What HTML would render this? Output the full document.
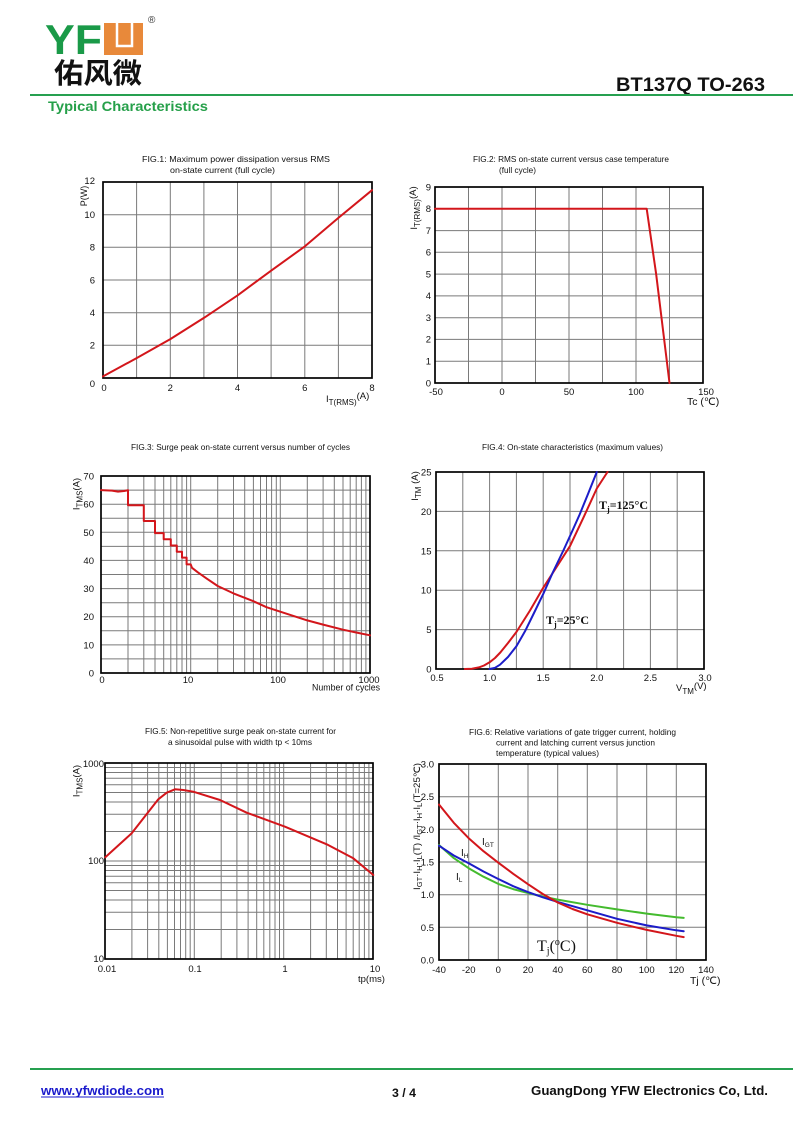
<!DOCTYPE html>
<html><head><meta charset="utf-8"><style>
html,body{margin:0;padding:0;background:#fff;}
svg{display:block;}
text{font-family:"Liberation Sans",Arial,sans-serif;fill:#111;}
.s{font-family:"Liberation Serif","Times New Roman",serif;}
.g{stroke:#7a7a7a;stroke-width:1;fill:none;}
.f{stroke:#000;stroke-width:1.7;fill:none;}
.r{stroke:#d3161b;stroke-width:2;fill:none;stroke-linejoin:round;stroke-linecap:round;}
.b{stroke:#1c1cc8;stroke-width:2;fill:none;stroke-linejoin:round;stroke-linecap:round;}
.gr{stroke:#44bb2e;stroke-width:2;fill:none;stroke-linejoin:round;stroke-linecap:round;}
.t{font-size:8.5px;}
.k{font-size:9.5px;}
</style></head><body>
<svg width="800" height="1130" viewBox="0 0 800 1130" xmlns="http://www.w3.org/2000/svg">
<rect width="800" height="1130" fill="#fff"/>

<!-- HEADER -->
<text x="45" y="54" font-size="42" font-weight="bold" textLength="57" lengthAdjust="spacingAndGlyphs" style="fill:#1a9a48">YF</text>
<rect x="104" y="23" width="39" height="32" fill="#e8893a"/>
<path d="M117,23 V46 H132 V23" stroke="#fff" stroke-width="2.5" fill="none"/>
<text x="148" y="23" font-size="10" style="fill:#333">®</text>
<text x="54" y="83" font-size="28" font-weight="bold" textLength="88" lengthAdjust="spacingAndGlyphs" style="font-family:'Liberation Sans','Noto Sans CJK SC',sans-serif;fill:#111">佑风微</text>
<text x="765" y="91" font-size="19.5" font-weight="bold" text-anchor="end" textLength="149" lengthAdjust="spacingAndGlyphs">BT137Q TO-263</text>
<line x1="30" y1="95" x2="793" y2="95" stroke="#26a050" stroke-width="2"/>
<text x="48" y="111" font-size="13.5" font-weight="bold" textLength="160" lengthAdjust="spacingAndGlyphs" style="fill:#26a04a">Typical Characteristics</text>

<!-- FIG 1 -->
<text class="t" x="142" y="162" textLength="188" lengthAdjust="spacingAndGlyphs">FIG.1: Maximum power dissipation versus RMS</text>
<text class="t" x="170" y="173" textLength="105" lengthAdjust="spacingAndGlyphs">on-state current (full cycle)</text>
<g class="g">
<path d="M136.6,182V378M170.3,182V378M203.9,182V378M237.5,182V378M271.1,182V378M304.8,182V378M338.4,182V378"/>
<path d="M103,214.7H372M103,247.3H372M103,280H372M103,312.7H372M103,345.3H372"/>
</g>
<rect class="f" x="103" y="182" width="269" height="196"/>
<polyline class="r" points="103,376.4 136.6,358.1 170.3,339.1 203.9,317.9 237.5,295.4 271.1,270.7 304.8,246.4 338.4,217.9 372,190.2"/>
<g class="k" text-anchor="end">
<text x="95" y="184">12</text><text x="95" y="218">10</text><text x="95" y="250.5">8</text><text x="95" y="283.5">6</text><text x="95" y="316">4</text><text x="95" y="348.5">2</text><text x="95" y="387">0</text>
</g>
<g class="k" text-anchor="middle">
<text x="104" y="391">0</text><text x="170.3" y="391">2</text><text x="237.5" y="391">4</text><text x="304.8" y="391">6</text><text x="372" y="391">8</text>
</g>
<text x="326" y="402" font-size="9.5">I<tspan font-size="8" dy="3">T(RMS)</tspan><tspan dy="-6">(A)</tspan></text>
<text transform="translate(87,196) rotate(-90)" text-anchor="middle" font-size="9">P(W)</text>

<!-- FIG 2 -->
<text class="t" x="473" y="162" textLength="196" lengthAdjust="spacingAndGlyphs">FIG.2: RMS on-state current versus case temperature</text>
<text class="t" x="499" y="173" textLength="37" lengthAdjust="spacingAndGlyphs">(full cycle)</text>
<g class="g">
<path d="M468.5,187V383M502,187V383M535.5,187V383M569,187V383M602.5,187V383M636,187V383M669.5,187V383"/>
<path d="M435,361.2H703M435,339.4H703M435,317.7H703M435,295.9H703M435,274.1H703M435,252.3H703M435,230.6H703M435,208.8H703"/>
</g>
<rect class="f" x="435" y="187" width="268" height="196"/>
<polyline class="r" points="435,208.8 646.7,208.8 656.1,273.7 669.5,383"/>
<g class="k" text-anchor="end">
<text x="431" y="386.3">0</text><text x="431" y="364.5">1</text><text x="431" y="342.7">2</text><text x="431" y="321">3</text><text x="431" y="299.2">4</text><text x="431" y="277.4">5</text><text x="431" y="255.6">6</text><text x="431" y="233.9">7</text><text x="431" y="212.1">8</text><text x="431" y="190.3">9</text>
</g>
<g class="k" text-anchor="middle">
<text x="436" y="395">-50</text><text x="502" y="395">0</text><text x="569" y="395">50</text><text x="636" y="395">100</text><text x="706" y="395">150</text>
</g>
<text x="687" y="405" font-size="10.5">Tc (℃)</text>
<text transform="translate(417,208) rotate(-90)" text-anchor="middle" font-size="9.5">I<tspan font-size="8" dy="3">T(RMS)</tspan><tspan dy="-4">(A)</tspan></text>

<!-- FIG 3 -->
<text class="t" x="131" y="450" textLength="219" lengthAdjust="spacingAndGlyphs">FIG.3: Surge peak on-state current versus number of cycles</text>
<g class="g">
<path d="M128,476V673M143.8,476V673M155,476V673M163.7,476V673M170.8,476V673M176.8,476V673M182,476V673M186.6,476V673M190.7,476V673M217.7,476V673M233.5,476V673M244.7,476V673M253.4,476V673M260.5,476V673M266.5,476V673M271.6,476V673M276.3,476V673M280.3,476V673M307.3,476V673M323.1,476V673M334.3,476V673M343,476V673M350.2,476V673M356.2,476V673M361.4,476V673M365.9,476V673"/>
<path d="M101,658.9H370M101,644.9H370M101,630.8H370M101,616.7H370M101,602.7H370M101,588.6H370M101,574.5H370M101,560.4H370M101,546.4H370M101,532.3H370M101,518.2H370M101,504.2H370M101,490.1H370"/>
</g>
<rect class="f" x="101" y="476" width="269" height="197"/>
<path class="r" d="M101,490.1 L112,490.6 L118,491.6 L124,491 L128,490.2 V505.3 H143.8 V521 H155 V533.1 H163.7 V539.3 H170.8 V545.5 H176.8 V551.7 H182 V557.6 H186.6 V564.4 H190.7 L192,567.8 L197.8,572.3 L206.5,578.4 L217.7,586 L233.5,593.4 L253.4,601.2 L266.5,607.2 L280.3,611.7 L307.3,620.4 L323.1,624.6 L343,629.7 L356.2,632.5 L370,635.3"/>
<g class="k" text-anchor="end">
<text x="94" y="676.5">0</text><text x="94" y="648.4">10</text><text x="94" y="620.2">20</text><text x="94" y="592.1">30</text><text x="94" y="563.9">40</text><text x="94" y="535.8">50</text><text x="94" y="507.7">60</text><text x="94" y="479.5">70</text>
</g>
<g class="k" text-anchor="middle">
<text x="102" y="683">0</text><text x="188" y="683">10</text><text x="278" y="683">100</text><text x="369" y="683">1000</text>
</g>
<text x="312" y="690.5" font-size="9.5" textLength="68" lengthAdjust="spacingAndGlyphs">Number of cycles</text>
<text transform="translate(79.5,494) rotate(-90)" text-anchor="middle" font-size="9.5">I<tspan font-size="8" dy="3">TMS</tspan><tspan dy="-3">(A)</tspan></text>

<!-- FIG 4 -->
<text class="t" x="482" y="450" textLength="181" lengthAdjust="spacingAndGlyphs">FIG.4: On-state characteristics (maximum values)</text>
<g class="g">
<path d="M462.8,472V669M489.6,472V669M516.4,472V669M543.2,472V669M570,472V669M596.8,472V669M623.6,472V669M650.4,472V669M677.2,472V669"/>
<path d="M436,629.6H704M436,590.2H704M436,550.8H704M436,511.4H704"/>
</g>
<rect class="f" x="436" y="472" width="268" height="197"/>
<polyline class="r" points="464.9,669 472,668.7 478.9,667.4 484,665.5 489.6,662.3 495,658 500.3,652.5 508,643 516.4,632 530,610.5 543.2,587.8 556.6,567 570,546.1 583.4,517.7 596.8,488.5 607.5,472"/>
<polyline class="b" points="489.6,669 495,667.8 500,664.7 508,657 516.4,646.3 525,631.3 534,613 543.2,594.1 553,572 563.6,550 571.6,532.5 579.6,514.6 588,494 596.8,472"/>
<text class="s" x="599" y="509" font-size="12" font-weight="bold">T<tspan font-size="8" dy="3">j</tspan><tspan dy="-3">=125°C</tspan></text>
<text class="s" x="546" y="624" font-size="12" font-weight="bold">T<tspan font-size="8" dy="3">j</tspan><tspan dy="-3">=25°C</tspan></text>
<g class="k" text-anchor="end">
<text x="431.5" y="672.5">0</text><text x="431.5" y="633.1">5</text><text x="431.5" y="593.7">10</text><text x="431.5" y="554.3">15</text><text x="431.5" y="514.9">20</text><text x="431.5" y="475.5">25</text>
</g>
<g class="k" text-anchor="middle">
<text x="437" y="681">0.5</text><text x="489.6" y="681">1.0</text><text x="543.2" y="681">1.5</text><text x="596.8" y="681">2.0</text><text x="650.4" y="681">2.5</text><text x="705" y="681">3.0</text>
</g>
<text x="676" y="691" font-size="9.5">V<tspan font-size="8" dy="3">TM</tspan><tspan dy="-5">(V)</tspan></text>
<text transform="translate(418,486) rotate(-90)" text-anchor="middle" font-size="9.5">I<tspan font-size="8" dy="3">TM</tspan><tspan dy="-3"> (A)</tspan></text>

<!-- FIG 5 -->
<text class="t" x="145" y="734" textLength="191" lengthAdjust="spacingAndGlyphs">FIG.5: Non-repetitive surge peak on-state current for</text>
<text class="t" x="168" y="745" textLength="144" lengthAdjust="spacingAndGlyphs">a sinusoidal pulse with width tp &lt; 10ms</text>
<g class="g">
<path d="M131.9,763V959M147.6,763V959M158.8,763V959M167.4,763V959M174.5,763V959M180.5,763V959M185.7,763V959M190.2,763V959M194.3,763V959M221.2,763V959M236.9,763V959M248.1,763V959M256.7,763V959M263.8,763V959M269.8,763V959M275,763V959M279.5,763V959M283.7,763V959M310.6,763V959M326.3,763V959M337.5,763V959M346.1,763V959M353.2,763V959M359.2,763V959M364.4,763V959M368.9,763V959"/>
<path d="M105,929.5H373M105,912.2H373M105,900H373M105,890.5H373M105,882.7H373M105,876.2H373M105,870.5H373M105,865.5H373M105,861H373M105,831.5H373M105,814.2H373M105,802H373M105,792.5H373M105,784.7H373M105,778.2H373M105,772.5H373M105,767.5H373"/>
</g>
<rect class="f" x="105" y="763" width="268" height="196"/>
<polyline class="r" points="105.3,857.3 131.7,833.3 158.3,799.3 166.7,792.7 175,789.3 183.3,790 193.3,791.7 220,800 246.7,812.7 285,826.7 326.7,844.3 353.3,858.3 373.3,875"/>
<g class="k" text-anchor="end">
<text x="104" y="767">1000</text><text x="104" y="864">100</text><text x="104" y="962">10</text>
</g>
<g class="k" text-anchor="middle">
<text x="107" y="972">0.01</text><text x="195" y="972">0.1</text><text x="285" y="972">1</text><text x="375" y="972">10</text>
</g>
<text x="358" y="982" font-size="9.5">tp(ms)</text>
<text transform="translate(79.5,781) rotate(-90)" text-anchor="middle" font-size="9.5">I<tspan font-size="8" dy="3">TMS</tspan><tspan dy="-3">(A)</tspan></text>

<!-- FIG 6 -->
<text class="t" x="469" y="735" textLength="207" lengthAdjust="spacingAndGlyphs">FIG.6: Relative variations of gate trigger current, holding</text>
<text class="t" x="496" y="745.5" textLength="159" lengthAdjust="spacingAndGlyphs">current and latching current versus junction</text>
<text class="t" x="496" y="756" textLength="103" lengthAdjust="spacingAndGlyphs">temperature (typical values)</text>
<g class="g">
<path d="M468.7,764V960M498.3,764V960M528,764V960M557.7,764V960M587.3,764V960M617,764V960M646.7,764V960M676.3,764V960"/>
<path d="M439,927.3H706M439,894.7H706M439,862H706M439,829.3H706M439,796.7H706"/>
</g>
<rect class="f" x="439" y="764" width="267" height="196"/>
<polyline class="gr" points="439,845 453.8,858.1 468.7,868.2 483.5,876.7 498.3,883.9 513.2,889.1 528,893 542.8,896.6 557.7,899.6 587.3,904.8 617,909.4 646.7,913.6 676.3,917.2 683.7,917.9"/>
<polyline class="b" points="439,845.7 453.8,855.5 468.7,863.3 483.5,871.5 498.3,879 513.2,886.2 528,892.1 542.8,897.3 557.7,901.9 587.3,910.3 617,918.8 646.7,925.4 676.3,930.3 683.7,931.3"/>
<polyline class="r" points="439,804.5 453.8,822.8 468.7,838.2 483.5,851.2 498.3,862.7 513.2,873.8 528,884.2 542.8,894 557.7,902.5 572.5,909 587.3,914.3 617,922.8 646.7,929.9 676.3,935.8 683.7,937.1"/>
<text x="482" y="845" font-size="10">I<tspan font-size="6.5" dy="2">GT</tspan></text>
<text x="461" y="856" font-size="10">I<tspan font-size="6.5" dy="2">H</tspan></text>
<text x="456" y="880" font-size="10">I<tspan font-size="6.5" dy="2">L</tspan></text>
<text class="s" x="537" y="951" font-size="16">T<tspan font-size="10" dy="3">j</tspan><tspan dy="-3">(</tspan><tspan font-size="10" dy="-6">o</tspan><tspan dy="6">C)</tspan></text>
<g class="k" text-anchor="end">
<text x="434" y="963.5">0.0</text><text x="434" y="930.8">0.5</text><text x="434" y="898.2">1.0</text><text x="434" y="865.5">1.5</text><text x="434" y="832.8">2.0</text><text x="434" y="800.2">2.5</text><text x="434" y="767.5">3.0</text>
</g>
<g class="k" text-anchor="middle">
<text x="439" y="973">-40</text><text x="468.7" y="973">-20</text><text x="498.3" y="973">0</text><text x="528" y="973">20</text><text x="557.7" y="973">40</text><text x="587.3" y="973">60</text><text x="617" y="973">80</text><text x="646.7" y="973">100</text><text x="676.3" y="973">120</text><text x="706" y="973">140</text>
</g>
<text x="690" y="984" font-size="10.5">Tj (℃)</text>
<text transform="translate(420,890) rotate(-90)" font-size="9" textLength="127" lengthAdjust="spacingAndGlyphs">I<tspan font-size="7" dy="2">GT</tspan><tspan dy="-2">·I</tspan><tspan font-size="7" dy="2">H</tspan><tspan dy="-2">·I</tspan><tspan font-size="7" dy="2">L</tspan><tspan dy="-2">(T) /I</tspan><tspan font-size="7" dy="2">GT</tspan><tspan dy="-2">·I</tspan><tspan font-size="7" dy="2">H</tspan><tspan dy="-2">·I</tspan><tspan font-size="7" dy="2">L</tspan><tspan dy="-2">(T=25℃)</tspan></text>

<!-- FOOTER -->
<line x1="30" y1="1069" x2="793" y2="1069" stroke="#26a050" stroke-width="2"/>
<text x="41" y="1095" font-size="13" font-weight="bold" textLength="123" lengthAdjust="spacingAndGlyphs" style="fill:#1a1acc">www.yfwdiode.com</text>
<line x1="41" y1="1097" x2="164" y2="1097" stroke="#1a1acc" stroke-width="1"/>
<text x="392" y="1097" font-size="12" font-weight="bold" textLength="24" lengthAdjust="spacingAndGlyphs">3 / 4</text>
<text x="531" y="1095" font-size="13" font-weight="bold" textLength="237" lengthAdjust="spacingAndGlyphs">GuangDong YFW Electronics Co, Ltd.</text>
</svg>
</body></html>
